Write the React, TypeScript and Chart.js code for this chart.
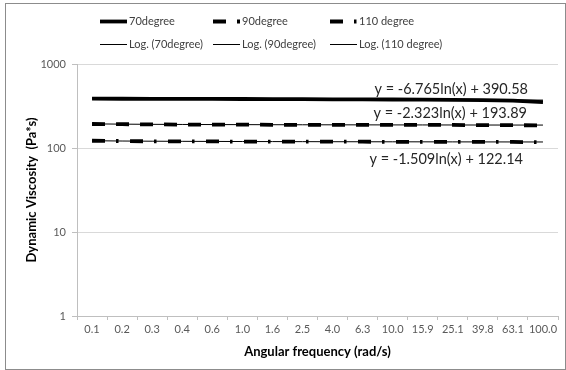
import React, { useEffect, useRef } from "react";
import { Chart, registerables } from "chart.js";

Chart.register(...registerables);

const categories = ["0.1", "0.2", "0.3", "0.4", "0.6", "1.0", "1.6", "2.5", "4.0", "6.3", "10.0", "15.9", "25.1", "39.8", "63.1", "100.0"];
const deg70 = [387, 386, 385, 384, 384, 383, 382, 381, 380, 379, 378, 377, 375, 372, 366, 352];
const deg90 = [193, 192, 191, 190, 190, 190, 189, 189, 189, 189, 188, 188, 188, 187, 187, 186];
const deg110 = [122, 121, 120, 120, 120, 119, 119, 119, 119, 119, 118, 118, 118, 118, 118, 117];
const log70 = [390.58, 385.89, 383.15, 381.2, 379.69, 378.46, 377.42, 376.51, 375.72, 375.0, 374.36, 373.77, 373.23, 372.73, 372.26, 371.82];
const log90 = [193.89, 192.28, 191.34, 190.67, 190.15, 189.73, 189.37, 189.06, 188.79, 188.54, 188.32, 188.12, 187.93, 187.76, 187.6, 187.45];
const log110 = [122.14, 121.09, 120.48, 120.05, 119.71, 119.44, 119.2, 119.0, 118.82, 118.67, 118.52, 118.39, 118.27, 118.16, 118.05, 117.96];
const seriesNames = ["70degree", "90degree", "110 degree", "Log. (70degree)", "Log. (90degree)", "Log. (110 degree)"];
const equations = ["y = -6.765ln(x) + 390.58", "y = -2.323ln(x) + 193.89", "y = -1.509ln(x) + 122.14"];
const yTicks = [1, 10, 100, 1000];

const FONT = "Lato, 'Open Sans', sans-serif";

const overlayPlugin = {
  id: "overlay",
  afterDraw(chart: any) {
    const ctx = chart.ctx;
    const area = chart.chartArea;
    const y = chart.scales.y;
    ctx.save();
    // outer border
    ctx.strokeStyle = "#8c8c8c";
    ctx.lineWidth = 1;
    ctx.strokeRect(5.5, 3.5, 560, 366);

    // legend
    const colX = [100, 213, 330];
    const rowY = [21, 44];
    chart.data.datasets.forEach((ds: any, i: number) => {
      const col = i % 3;
      const row = i < 3 ? 0 : 1;
      const x0 = colX[col];
      const yy = rowY[row];
      ctx.save();
      ctx.strokeStyle = ds.borderColor;
      ctx.lineWidth = ds.borderWidth;
      ctx.setLineDash(ds.borderDash || []);
      ctx.lineCap = "butt";
      ctx.beginPath();
      ctx.moveTo(x0, yy + 0.5);
      ctx.lineTo(x0 + 27, yy + 0.5);
      ctx.stroke();
      ctx.restore();
      ctx.fillStyle = "#404040";
      ctx.font = `11px ${FONT}`;
      ctx.textBaseline = "middle";
      ctx.textAlign = "left";
      ctx.fillText(ds.label, x0 + 29, yy);
    });

    // trendline equations
    const trends = [log70, log90, log110];
    const offsets = [-11, -12, 17];
    const rights = [30, 31, 35];
    ctx.fillStyle = "#262626";
    ctx.font = `14.5px ${FONT}`;
    ctx.textAlign = "right";
    ctx.textBaseline = "middle";
    trends.forEach((t, i) => {
      const py = y.getPixelForValue(t[t.length - 1]) + offsets[i];
      ctx.fillText(equations[i], area.right - rights[i], py);
    });

    // axis titles
    ctx.fillStyle = "#000";
    ctx.font = `bold 13px ${FONT}`;
    ctx.textAlign = "center";
    ctx.textBaseline = "middle";
    ctx.fillText("Angular frequency (rad/s)", (area.left + area.right) / 2, 352);
    ctx.save();
    ctx.translate(32, (area.top + area.bottom) / 2);
    ctx.rotate(-Math.PI / 2);
    ctx.fillText("Dynamic Viscosity  (Pa*s)", 0, 0);
    ctx.restore();
    ctx.restore();
  },
};

export default function App() {
  const ref = useRef<HTMLCanvasElement | null>(null);
  useEffect(() => {
    if (!ref.current) return;
    const chart = new Chart(ref.current, {
      type: "line",
      data: {
        labels: categories,
        datasets: [
          { label: seriesNames[0], data: deg70, borderColor: "#000", borderWidth: 3.8, pointRadius: 0, borderDash: [] },
          { label: seriesNames[1], data: deg90, borderColor: "#000", borderWidth: 3.8, pointRadius: 0, borderDash: [13, 11] },
          { label: seriesNames[2], data: deg110, borderColor: "#000", borderWidth: 3.8, pointRadius: 0, borderDash: [13, 11, 2.5, 11.5] },
          { label: seriesNames[3], data: log70, borderColor: "#000", borderWidth: 1, pointRadius: 0, borderDash: [] },
          { label: seriesNames[4], data: log90, borderColor: "#000", borderWidth: 1, pointRadius: 0, borderDash: [] },
          { label: seriesNames[5], data: log110, borderColor: "#000", borderWidth: 1, pointRadius: 0, borderDash: [] },
        ],
      } as any,
      options: {
        animation: false,
        responsive: false,
        devicePixelRatio: 1,
        layout: { padding: { left: 0, right: 8, top: 64, bottom: 0 } },
        plugins: { legend: { display: false }, tooltip: { enabled: false }, title: { display: false } },
        elements: { line: { tension: 0, borderCapStyle: "butt" } },
        scales: {
          x: {
            type: "category",
            offset: true,
            grid: { drawOnChartArea: false, offset: true, drawTicks: true, tickLength: 4, color: "#bfbfbf" },
            border: { color: "#bfbfbf" },
            ticks: { color: "#595959", font: { family: FONT, size: 11 }, padding: 3, maxRotation: 0, autoSkip: false },
            afterFit: (s: any) => { s.height = 54; },
          },
          y: {
            type: "logarithmic",
            min: 1,
            max: 1000,
            grid: { color: "#d9d9d9", drawTicks: true, tickLength: 5, tickColor: "#bfbfbf" },
            border: { color: "#bfbfbf" },
            ticks: { color: "#595959", font: { family: FONT, size: 11 }, padding: 6, callback: (v: any) => String(v) },
            afterBuildTicks: (s: any) => { s.ticks = yTicks.map((v) => ({ value: v })); },
            afterFit: (s: any) => { s.width = 77; },
          },
        },
      } as any,
      plugins: [overlayPlugin],
    });
    return () => chart.destroy();
  }, []);
  return (
    <div style={{ position: "fixed", left: 0, top: 0, width: 566, height: 370, background: "#fff" }}>
      <canvas ref={ref} width={566} height={370} style={{ width: 566, height: 370, display: "block" }} />
    </div>
  );
}
